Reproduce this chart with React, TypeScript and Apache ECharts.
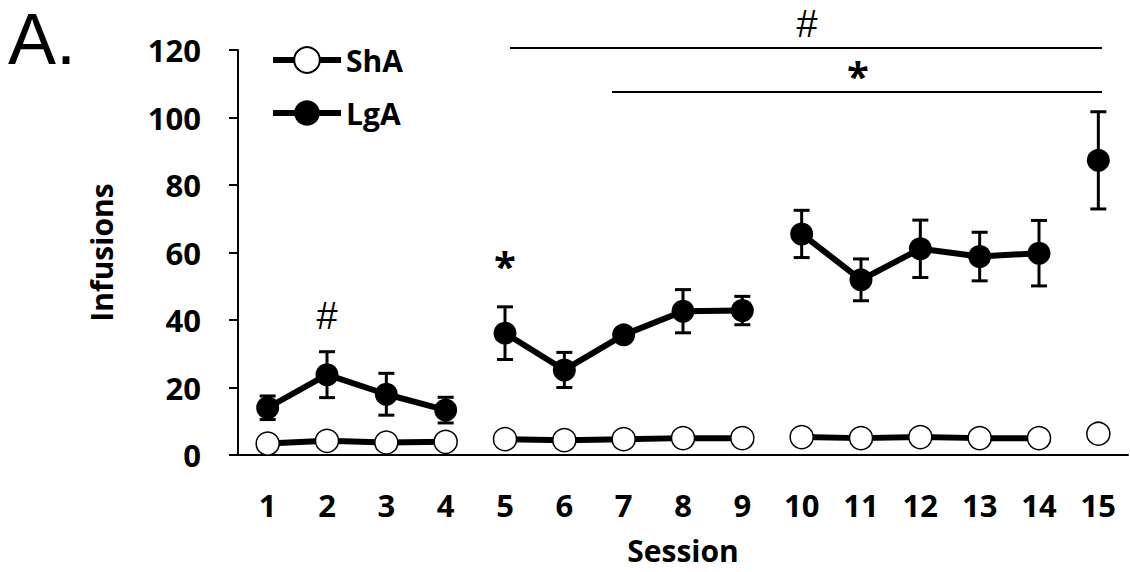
import React, { useEffect, useRef } from "react";
import * as echarts from "echarts";

const sessions = ["1", "2", "3", "4", "5", "6", "7", "8", "9", "10", "11", "12", "13", "14", "15"];
const yTicks = [0, 20, 40, 60, 80, 100, 120];
const shaMean = [3.4, 4.2, 3.7, 3.9, 4.7, 4.4, 4.7, 5.0, 5.0, 5.3, 5.0, 5.3, 5.0, 5.0, 6.3];
const shaErr = [0.8, 0.8, 0.7, 0.7, 0.8, 0.7, 0.7, 0.8, 0.8, 0.9, 0.8, 0.9, 0.8, 0.8, 1.0];
const lgaMean = [14.0, 23.8, 18.0, 13.3, 36.1, 25.2, 35.6, 42.6, 42.8, 65.5, 51.9, 61.1, 58.8, 59.8, 87.3];
const lgaErr = [3.5, 6.8, 6.2, 3.8, 7.8, 5.2, 1.5, 6.4, 4.2, 7.0, 6.2, 8.5, 7.2, 9.7, 14.4];
const segments = [
  [0, 3],
  [4, 8],
  [9, 13],
  [14, 14],
];

const FONT = "'Open Sans', 'Noto Sans', sans-serif";
const HASH_FONT = "'Liberation Sans', sans-serif";

function segData(values: number[], seg: number[]) {
  return values.map((v, i) => (i >= seg[0] && i <= seg[1] ? v : null));
}

function errorSeries(name: string, mean: number[], err: number[]) {
  return {
    type: "custom",
    name: name + "-err",
    z: 1,
    silent: true,
    data: mean.map((m, i) => [i, m - err[i], m + err[i]]),
    renderItem: (params: any, api: any) => {
      const x = api.value(0);
      const lo = api.coord([x, api.value(1)]);
      const hi = api.coord([x, api.value(2)]);
      const cap = 8;
      const style = { stroke: "#000", lineWidth: 3 };
      return {
        type: "group",
        children: [
          { type: "line", shape: { x1: lo[0], y1: lo[1], x2: hi[0], y2: hi[1] }, style },
          { type: "line", shape: { x1: hi[0] - cap, y1: hi[1], x2: hi[0] + cap, y2: hi[1] }, style },
          { type: "line", shape: { x1: lo[0] - cap, y1: lo[1], x2: lo[0] + cap, y2: lo[1] }, style },
        ],
      };
    },
  };
}

export default function App() {
  const ref = useRef<HTMLDivElement>(null);
  useEffect(() => {
    if (!ref.current) return;
    const chart = echarts.init(ref.current, null, { renderer: "svg" });
    const lineSeries: any[] = [];
    segments.forEach((seg) => {
      lineSeries.push({
        type: "line",
        name: "ShA",
        z: 3,
        data: segData(shaMean, seg),
        symbol: "circle",
        symbolSize: 23,
        showAllSymbol: true,
        connectNulls: false,
        lineStyle: { color: "#000", width: 6 },
        itemStyle: { color: "#fff", borderColor: "#000", borderWidth: 1.5 },
      });
      lineSeries.push({
        type: "line",
        name: "LgA",
        z: 3,
        data: segData(lgaMean, seg),
        symbol: "circle",
        symbolSize: 23,
        showAllSymbol: true,
        connectNulls: false,
        lineStyle: { color: "#000", width: 6 },
        itemStyle: { color: "#000", borderColor: "#000", borderWidth: 0 },
      });
    });
    chart.setOption({
      animation: false,
      backgroundColor: "#fff",
      grid: { left: 238, right: 2, top: 50, bottom: 117, containLabel: false },
      legend: {
        data: ["ShA", "LgA"],
        orient: "vertical",
        left: 265,
        top: 40,
        itemWidth: 68,
        itemHeight: 32,
        itemGap: 23,
        lineStyle: { color: "#000", width: 6 },
        textStyle: { fontFamily: FONT, fontWeight: "bold", fontSize: 30, color: "#000" },
      },
      xAxis: {
        type: "category",
        data: sessions,
        boundaryGap: true,
        name: "Session",
        nameLocation: "middle",
        nameGap: 80,
        nameTextStyle: { fontFamily: FONT, fontWeight: "bold", fontSize: 30, color: "#000" },
        axisLine: { lineStyle: { color: "#000", width: 2 } },
        axisTick: { alignWithLabel: true, length: 8, lineStyle: { color: "#000", width: 2 } },
        axisLabel: { margin: 34, fontFamily: FONT, fontWeight: "bold", fontSize: 31, color: "#000" },
        splitLine: { show: false },
      },
      yAxis: {
        type: "value",
        min: yTicks[0],
        max: yTicks[yTicks.length - 1],
        interval: 20,
        name: "Infusions",
        nameLocation: "middle",
        nameGap: 122,
        nameTextStyle: { fontFamily: FONT, fontWeight: "bold", fontSize: 30, color: "#000" },
        axisLine: { show: true, lineStyle: { color: "#000", width: 2 } },
        axisTick: { show: true, length: 9, lineStyle: { color: "#000", width: 2 } },
        axisLabel: { margin: 37, fontFamily: FONT, fontWeight: "bold", fontSize: 31, color: "#000" },
        splitLine: { show: false },
      },
      graphic: [
        { type: "text", x: 8, y: 3, style: { text: "A.", fontFamily: HASH_FONT, fontSize: 72, fill: "#000", verticalAlign: "top" } },
        { type: "line", shape: { x1: 510, y1: 48, x2: 1102, y2: 48 }, style: { stroke: "#000", lineWidth: 2 } },
        { type: "line", shape: { x1: 612, y1: 92, x2: 1102, y2: 92 }, style: { stroke: "#000", lineWidth: 2 } },
        { type: "text", x: 807, y: 24, style: { text: "#", fontFamily: HASH_FONT, fontSize: 38, fill: "#000", align: "center", verticalAlign: "middle" } },
        { type: "text", x: 858, y: 75, style: { text: "*", fontFamily: FONT, fontWeight: "bold", fontSize: 40, fill: "#000", align: "center", verticalAlign: "middle" } },
        { type: "text", x: 327, y: 316, style: { text: "#", fontFamily: HASH_FONT, fontSize: 38, fill: "#000", align: "center", verticalAlign: "middle" } },
        { type: "text", x: 505, y: 265, style: { text: "*", fontFamily: FONT, fontWeight: "bold", fontSize: 40, fill: "#000", align: "center", verticalAlign: "middle" } },
      ],
      series: [errorSeries("ShA", shaMean, shaErr), errorSeries("LgA", lgaMean, lgaErr), ...lineSeries],
    });
    return () => chart.dispose();
  }, []);
  return <div ref={ref} style={{ width: 1130, height: 572, position: "absolute", left: 0, top: 0 }} />;
}
